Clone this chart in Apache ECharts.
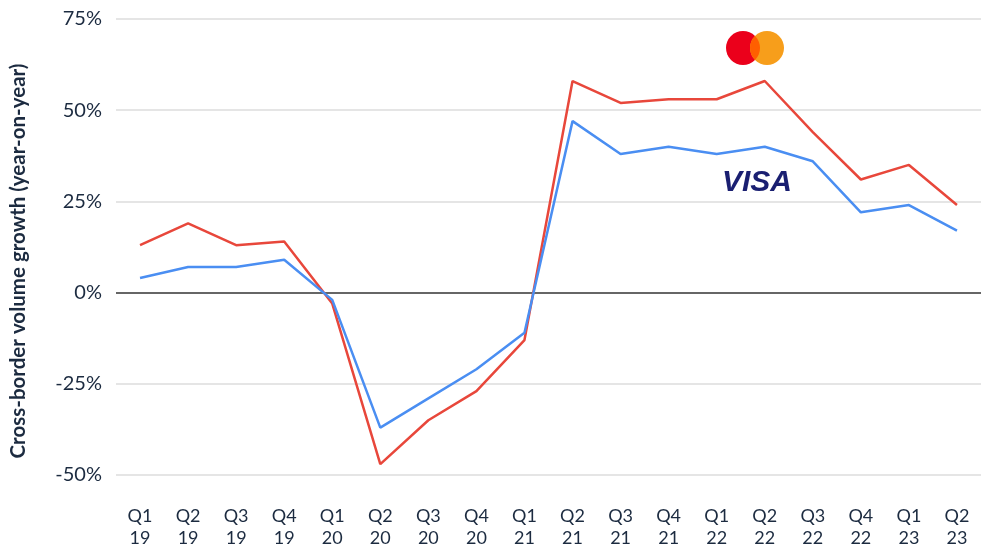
<!DOCTYPE html>
<html>
<head>
<meta charset="utf-8">
<script src="https://cdn.jsdelivr.net/npm/echarts@6/dist/echarts.min.js"></script>
<style>html,body{margin:0;padding:0;background:#fff}#c{width:1000px;height:550px}</style>
</head>
<body>
<div id="c"></div>
<script>
const categories = ['Q1\n19','Q2\n19','Q3\n19','Q4\n19','Q1\n20','Q2\n20','Q3\n20','Q4\n20','Q1\n21','Q2\n21','Q3\n21','Q4\n21','Q1\n22','Q2\n22','Q3\n22','Q4\n22','Q1\n23','Q2\n23'];
const mastercard = [13, 19, 13, 14, -3, -47, -35, -27, -13, 58, 52, 53, 53, 58, 44, 31, 35, 24];
const visa = [4, 7, 7, 9, -2, -37, -29, -21, -11, 47, 38, 40, 38, 40, 36, 22, 24, 17];
const yTicks = [-50, -25, 0, 25, 50, 75];
const yAxisTitle = 'Cross-border volume growth (year-on-year)';

const chart = echarts.init(document.getElementById('c'));
const font = 'Lato, "Open Sans", sans-serif';
chart.setOption({
  animation: false,
  grid: {left: 116, right: 19, top: 19, bottom: 75, containLabel: false, outerBoundsMode: 'none'},
  xAxis: {
    type: 'category', data: categories, boundaryGap: true,
    axisLine: {show: false}, axisTick: {show: false},
    axisLabel: {color: '#1c2b40', fontSize: 18, fontFamily: font, lineHeight: 22, margin: 30}
  },
  yAxis: {
    type: 'value', min: yTicks[0], max: yTicks[yTicks.length-1], interval: 25,
    axisLine: {show: false}, axisTick: {show: false},
    axisLabel: {color: '#1c2b40', fontSize: 20, fontFamily: font, margin: 14, formatter: v => v + '%'},
    splitLine: {lineStyle: {color: yTicks.map(t => t === 0 ? '#333' : '#dcdcdc'), width: 1.5}}
  },
  series: [
    {name: 'Mastercard', type: 'line', data: mastercard, symbol: 'none', z: 3,
     lineStyle: {color: '#e8473b', width: 2.5}},
    {name: 'Visa', type: 'line', data: visa, symbol: 'none', z: 4,
     lineStyle: {color: '#4a8ef2', width: 2.5}}
  ],
  graphic: [
    {type: 'text', x: 18, y: 261, rotation: Math.PI / 2, z: 10,
     style: {text: yAxisTitle, fill: '#1c2b40', align: 'center', verticalAlign: 'middle',
             font: 'bold 20.5px Lato, "Open Sans", sans-serif'}},
    {type: 'circle', shape: {cx: 743, cy: 48, r: 17}, style: {fill: '#eb001b'}, z: 10},
    {type: 'circle', shape: {cx: 767, cy: 48, r: 17}, style: {fill: '#f79e1b'}, z: 11},
    {type: 'circle', shape: {cx: 767, cy: 48, r: 17}, style: {fill: '#ff5f00'}, z: 12,
     clipPath: {type: 'circle', shape: {cx: 743, cy: 48, r: 17}}},
    {type: 'text', x: 722, y: 168, z: 10,
     style: {text: 'VISA', fill: '#1a1f71', font: 'italic bold 30px "Liberation Sans", Arial, sans-serif'}}
  ]
});
</script>
</body>
</html>
